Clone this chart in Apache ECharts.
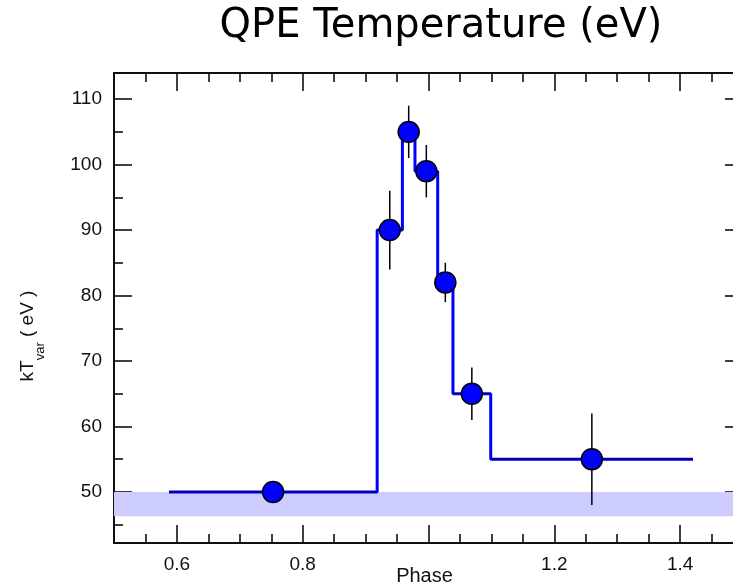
<!DOCTYPE html>
<html>
<head>
<meta charset="utf-8">
<script src="https://cdn.jsdelivr.net/npm/echarts@6/dist/echarts.min.js"></script>
<style>
  html, body { margin: 0; padding: 0; background: #fff; }
  #chart { width: 733px; height: 588px; }
</style>
</head>
<body>
<div id="chart"></div>
<script>
// ---- data ----
const binEdges = [0.5874, 0.9184, 0.9585, 0.9785, 1.0146, 1.0389, 1.0989, 1.4205];
const kT = [50, 90, 105, 99, 82, 65, 55];
const kTErr = [1, 6, 4, 4, 3, 4, 7];
const bandRange = [46.3, 50];
const xRange = [0.5, 1.5];
const yRange = [42.2, 114];
const xMajorTicks = [0.6, 0.8, 1.0, 1.2, 1.4];
const xMinorTicks = [0.55, 0.65, 0.7, 0.75, 0.85, 0.9, 0.95, 1.05, 1.1, 1.15, 1.25, 1.3, 1.35, 1.45];
const xTickLabels = [0.6, 0.8, 1.2, 1.4];
const yMajorTicks = [50, 60, 70, 80, 90, 100, 110];
const yMinorTicks = [45, 55, 65, 75, 85, 95, 105];
const titleText = 'QPE Temperature (eV)';
const xName = 'Phase';

// ---- derived structures ----
const stepData = [];
for (let i = 0; i < kT.length; i++) {
  stepData.push([binEdges[i], kT[i]]);
  stepData.push([binEdges[i + 1], kT[i]]);
}
const pointData = kT.map((v, i) => [(binEdges[i] + binEdges[i + 1]) / 2, v]);
const errData = kT.map((v, i) => [(binEdges[i] + binEdges[i + 1]) / 2, v, kTErr[i], binEdges[i], binEdges[i + 1]]);

const axisFont = 'Liberation Sans, Arial, sans-serif';
const black = '#000';

function xAx(pos, ticks, len, labels) {
  return {
    type: 'value', position: pos, min: xRange[0], max: xRange[1],
    axisLine: { show: true, onZero: false, lineStyle: { color: black, width: 1.5 } },
    axisTick: { show: true, inside: true, length: len, customValues: ticks, lineStyle: { color: black, width: 1.5 } },
    axisLabel: labels ? { show: true, customValues: labels, margin: 12, fontSize: 19, color: '#111', fontFamily: axisFont }
                      : { show: false },
    splitLine: { show: false }
  };
}
function yAx(pos, ticks, len, labels) {
  return {
    type: 'value', position: pos, min: yRange[0], max: yRange[1],
    axisLine: { show: true, onZero: false, lineStyle: { color: black, width: 1.5 } },
    axisTick: { show: true, inside: true, length: len, customValues: ticks, lineStyle: { color: black, width: 1.5 } },
    axisLabel: labels ? { show: true, customValues: labels, margin: 12, fontSize: 19, color: '#111', fontFamily: axisFont }
                      : { show: false },
    splitLine: { show: false }
  };
}

const xAxes = [
  xAx('bottom', xMajorTicks, 18, xTickLabels),
  xAx('bottom', xMinorTicks, 9, null),
  xAx('top', xMajorTicks, 18, null),
  xAx('top', xMinorTicks, 9, null)
];
xAxes[0].name = xName;
xAxes[0].nameLocation = 'middle';
xAxes[0].nameGap = 23;
xAxes[0].nameMoveOverlap = false;
xAxes[0].nameTextStyle = { fontSize: 20, color: '#111', fontFamily: axisFont, verticalAlign: 'top', padding: [0, 8, 0, 0] };

const yAxes = [
  yAx('left', yMajorTicks, 18, yMajorTicks),
  yAx('left', yMinorTicks, 9, null),
  yAx('right', yMajorTicks, 18, null),
  yAx('right', yMinorTicks, 9, null)
];

const chart = echarts.init(document.getElementById('chart'), null, { renderer: 'canvas' });
chart.setOption({
  animation: false,
  backgroundColor: '#fff',
  title: {
    text: titleText, left: 441, top: 7, textAlign: 'center', padding: 0,
    textStyle: { fontSize: 40, fontWeight: 'normal', color: '#000', fontFamily: 'DejaVu Sans, sans-serif' }
  },
  grid: { left: 114, top: 73, width: 629, height: 470, containLabel: false, outerBoundsMode: 'none' },
  xAxis: xAxes,
  yAxis: yAxes,
  graphic: [{
    type: 'text', x: 28, y: 336, rotation: Math.PI / 2,
    style: {
      text: '{m|kT}{s|var}{m| ( eV )}',
      align: 'center', verticalAlign: 'middle',
      rich: {
        m: { fontSize: 19, lineHeight: 24, fontFamily: axisFont, fill: '#111', verticalAlign: 'middle' },
        s: { fontSize: 13, lineHeight: 14, padding: [25, 0, 0, 0], fontFamily: axisFont, fill: '#111', verticalAlign: 'middle' }
      }
    }
  }],
  series: [
    {
      name: 'band', type: 'line', xAxisIndex: 0, yAxisIndex: 0,
      data: [[xRange[0], bandRange[1]], [xRange[1], bandRange[1]]],
      showSymbol: false, lineStyle: { opacity: 0 }, silent: true, z: 1,
      markArea: {
        silent: true,
        itemStyle: { color: '#ccccff', opacity: 1 },
        data: [[{ yAxis: bandRange[0] }, { yAxis: bandRange[1] }]]
      }
    },
    {
      name: 'step', type: 'line', xAxisIndex: 0, yAxisIndex: 0,
      data: stepData, showSymbol: false, symbol: 'none',
      lineStyle: { color: '#0000ff', width: 3 }, z: 3
    },
    {
      name: 'errors', type: 'custom', xAxisIndex: 0, yAxisIndex: 0, z: 4,
      data: errData,
      renderItem: function (params, api) {
        const x = api.value(0), y = api.value(1), e = api.value(2), lo = api.value(3), hi = api.value(4);
        const top = api.coord([x, y + e]);
        const bot = api.coord([x, y - e]);
        const l = api.coord([lo, y]);
        const r = api.coord([hi, y]);
        return {
          type: 'group',
          children: [
            { type: 'line', shape: { x1: top[0], y1: top[1], x2: bot[0], y2: bot[1] }, style: { stroke: '#000', lineWidth: 1.5 } },
            { type: 'line', shape: { x1: l[0], y1: l[1], x2: r[0], y2: r[1] }, style: { stroke: '#000066', lineWidth: 1.2 } }
          ]
        };
      }
    },
    {
      name: 'points', type: 'scatter', xAxisIndex: 0, yAxisIndex: 0, z: 5,
      data: pointData, symbol: 'circle', symbolSize: 21,
      itemStyle: { color: '#0000ff', borderColor: '#000', borderWidth: 1.5, opacity: 1 }
    }
  ]
});
</script>
</body>
</html>
